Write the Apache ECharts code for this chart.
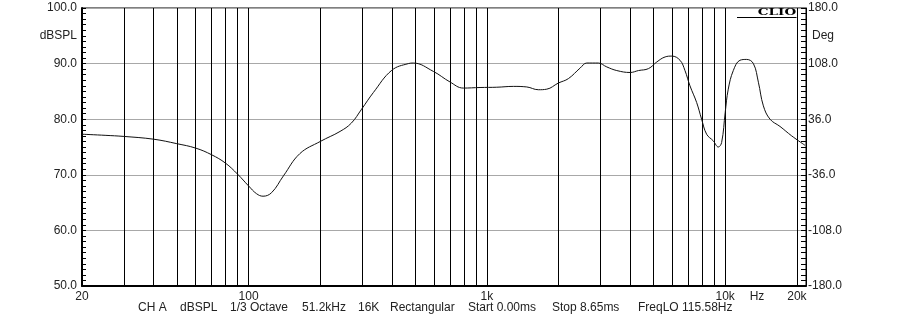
<!DOCTYPE html>
<html>
<head>
<meta charset="utf-8">
<script src="https://cdn.jsdelivr.net/npm/echarts@6/dist/echarts.min.js"></script>
<style>html,body{margin:0;padding:0;background:#fff;}#c{width:915px;height:315px;}</style>
</head>
<body>
<div id="c"></div>
<script>
// Frequency (Hz)
const freqs = [20, 25, 30, 40, 50, 60, 70, 80, 90, 100, 108, 115, 125, 140, 164, 200, 242, 270, 298, 334, 399, 468, 491, 596, 700, 796, 936, 1100, 1291, 1470, 1644, 1783, 1994, 2198, 2462, 2625, 2937, 3185, 3508, 3991, 4327, 4766, 5166, 5598, 5972, 6462, 6780, 7115, 7590, 7963, 8357, 8913, 9355, 9660, 10000, 10300, 10815, 11535, 12305, 13130, 13780, 14460, 15420, 16980, 19010, 21630];
// SPL (dB)
const spl = [77.3, 77.1, 76.9, 76.4, 75.6, 74.8, 73.6, 72.1, 70.1, 68.0, 66.6, 66.15, 66.8, 69.8, 73.8, 76.0, 77.8, 79.3, 81.8, 84.8, 88.8, 90.0, 90.1, 88.6, 86.7, 85.6, 85.7, 85.75, 85.9, 85.8, 85.3, 85.4, 86.5, 87.3, 89.2, 90.1, 90.1, 89.4, 88.75, 88.4, 88.75, 89.1, 90.3, 91.2, 91.35, 90.6, 88.75, 86.0, 83.0, 80.0, 77.3, 76.1, 75.0, 75.8, 81.2, 85.4, 88.75, 90.6, 90.75, 90.0, 86.65, 82.4, 80.0, 78.7, 77.0, 75.3];
// Vertical grid frequencies
const gridFreqs = [30, 40, 50, 60, 70, 80, 90, 100, 200, 300, 400, 500, 600, 700, 800, 900, 1000, 2000, 3000, 4000, 5000, 6000, 7000, 8000, 9000, 10000, 20000];
// Tick labels
const xTickLabels = {20: '20', 100: '100', 1000: '1k', 10000: '10k', 20000: '20k'};
const xUnit = 'Hz';
const yLeftName = 'dBSPL';
const yRightName = 'Deg';
const footer = ['CH A', 'dBSPL', '1/3 Octave', '51.2kHz', '16K', 'Rectangular', 'Start 0.00ms', 'Stop 8.65ms', 'FreqLO 115.58Hz'];
const footerX = [138, 180, 230, 302, 358, 390, 468, 552, 638];

const FONT = 'Liberation Sans, Arial, sans-serif';
const TXT = '#222';

const chart = echarts.init(document.getElementById('c'), null, {renderer: 'canvas'});

const mlData = gridFreqs.map(f => {
  const d = {xAxis: f};
  if (f === 20000) {
    d.label = {show: true, position: 'start', formatter: xTickLabels[20000], color: TXT, fontSize: 12, fontFamily: FONT, distance: 5};
  }
  return d;
});

const graphics = [
  {type: 'text', x: 77, y: 36, style: {text: yLeftName, fill: TXT, font: '12px ' + FONT, textAlign: 'right', textVerticalAlign: 'middle'}},
  {type: 'text', x: 812, y: 36, style: {text: yRightName, fill: TXT, font: '12px ' + FONT, textAlign: 'left', textVerticalAlign: 'middle'}},
  {type: 'text', x: 757, y: 297, style: {text: xUnit, fill: TXT, font: '12px ' + FONT, textAlign: 'center', textVerticalAlign: 'middle'}},
  {type: 'rect', z: 100, shape: {x: 737, y: 9, width: 59, height: 8}, style: {fill: '#fff'}},
  {type: 'line', z: 101, shape: {x1: 737, y1: 17.5, x2: 796.5, y2: 17.5}, style: {stroke: '#000', lineWidth: 1}},
  {type: 'text', z: 102, x: 777, y: 13, scaleX: 1.35, scaleY: 0.9, style: {text: 'CLIO', fill: '#000', font: 'bold 10px DejaVu Serif, serif', textAlign: 'center', textVerticalAlign: 'middle'}}
];
footer.forEach((t, i) => {
  graphics.push({type: 'text', x: footerX[i], y: 308, style: {text: t, fill: TXT, font: '12px ' + FONT, textAlign: 'left', textVerticalAlign: 'middle'}});
});

chart.setOption({
  animation: false,
  backgroundColor: '#fff',
  grid: {left: 82, right: 109, top: 8, bottom: 29, show: true, borderColor: '#000', borderWidth: 1, backgroundColor: '#fff'},
  xAxis: {
    type: 'log', logBase: 10, min: 20, max: 21830,
    axisLine: {show: true, onZero: false, lineStyle: {color: '#000', width: 2}},
    axisTick: {show: false},
    splitLine: {show: false},
    minorSplitLine: {show: false},
    axisLabel: {
      show: true, margin: 5, color: TXT, fontSize: 12, fontFamily: FONT,
      showMaxLabel: false,
      formatter: v => { const r = Math.round(v); return xTickLabels[r] !== undefined && r !== 20000 ? xTickLabels[r] : ''; }
    }
  },
  yAxis: [
    {
      type: 'value', position: 'left', min: 50, max: 100, interval: 10,
      axisLine: {show: true, onZero: false, lineStyle: {color: '#000', width: 2}},
      axisTick: {show: true, inside: true, length: 4, lineStyle: {color: '#000'}},
      minorTick: {show: true, splitNumber: 10, length: 4, lineStyle: {color: '#000'}},
      splitLine: {show: true, lineStyle: {color: '#a8a8a8', width: 1}},
      axisLabel: {margin: 5, color: TXT, fontSize: 12, fontFamily: FONT, formatter: v => v.toFixed(1)}
    },
    {
      type: 'value', position: 'right', min: -180, max: 180, interval: 72,
      axisLine: {show: true, onZero: false, lineStyle: {color: '#000', width: 1}},
      axisTick: {show: true, inside: true, length: 5, lineStyle: {color: '#000'}},
      minorTick: {show: true, splitNumber: 10, length: 5, lineStyle: {color: '#000'}},
      splitLine: {show: false},
      axisLabel: {margin: 2, color: TXT, fontSize: 12, fontFamily: FONT, formatter: v => v.toFixed(1)}
    }
  ],
  series: [{
    type: 'line',
    data: freqs.map((f, i) => [f, spl[i]]),
    showSymbol: false,
    smooth: 0.4,
    lineStyle: {color: '#111', width: 1},
    silent: true,
    z: 5,
    markLine: {
      silent: true,
      symbol: ['none', 'none'],
      animation: false,
      label: {show: false},
      lineStyle: {color: '#000', width: 1, type: 'solid'},
      emphasis: {disabled: true},
      data: mlData
    }
  }],
  graphic: graphics
});
</script>
</body>
</html>
